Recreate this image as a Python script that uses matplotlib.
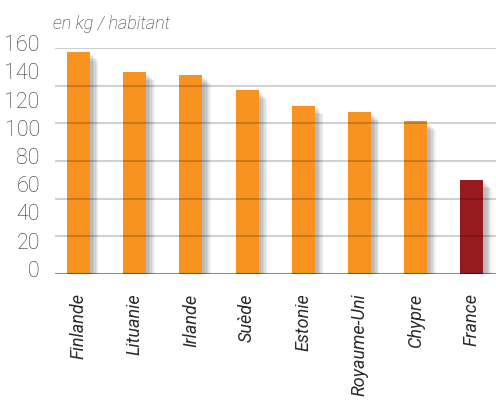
import matplotlib
matplotlib.use("Agg")
import matplotlib.pyplot as plt
import matplotlib.patheffects as pe
import matplotlib.transforms as mtransforms
import numpy as np

categories = ["Finlande", "Lituanie", "Irlande", "Suède", "Estonie", "Royaume-Uni", "Chypre", "France"]
values = [157, 143, 141, 130, 119, 115, 108, 66.5]
ytick_labels = ["0", "20", "40", "60", "80", "100", "120", "140", "160"]
unit_label = "en kg / habitant"

orange = "#F7931E"
darkred = "#971A1F"
colors = [orange] * 7 + [darkred]

fig = plt.figure(figsize=(4.96, 4.01), dpi=100)
ax = fig.add_axes([55/496, (401-274)/401, 1 - 55/496, (274-48)/401])

x = np.arange(len(categories))
shadow = [pe.SimplePatchShadow(offset=(o, -o), shadow_rgbFace="black", alpha=0.06) for o in (2, 3, 4, 5, 6)]
bars = ax.bar(x, values, width=0.41, color=colors, zorder=2,
              path_effects=shadow + [pe.Normal()])

ax.set_xlim(-0.42, 7.43)
ax.set_ylim(0, 160)

# grid lines (6 intervals) drawn over the bars, semi-transparent
for g in np.linspace(0, 160, 7)[1:]:
    ax.axhline(g, color="black", alpha=0.18, lw=1.5, zorder=3)
ax.axhline(0, color="black", alpha=0.45, lw=1.5, zorder=3)

for s in ax.spines.values():
    s.set_visible(False)

ax.set_yticks(range(0, 161, 20))
ax.set_yticklabels(ytick_labels, fontsize=15.5, color="#333333", family="Roboto", fontweight="light")
ax.tick_params(axis="y", length=0, pad=11)
for lbl in ax.get_yticklabels():
    lbl.set_transform(lbl.get_transform() + mtransforms.ScaledTranslation(0, 5/100, fig.dpi_scale_trans))

ax.set_xticks(x)
ax.set_xticklabels(categories, rotation=90, fontsize=13, color="#2a2a2a",
                   family="Roboto", fontstyle="italic", fontweight="normal")
ax.tick_params(axis="x", length=0, pad=14)

fig.text(53/496, 1 - 24/401, unit_label, fontsize=13, color="#333333",
         family="Roboto", fontstyle="italic", fontweight="light", va="center", ha="left")

fig.savefig("out.png", dpi=100)
